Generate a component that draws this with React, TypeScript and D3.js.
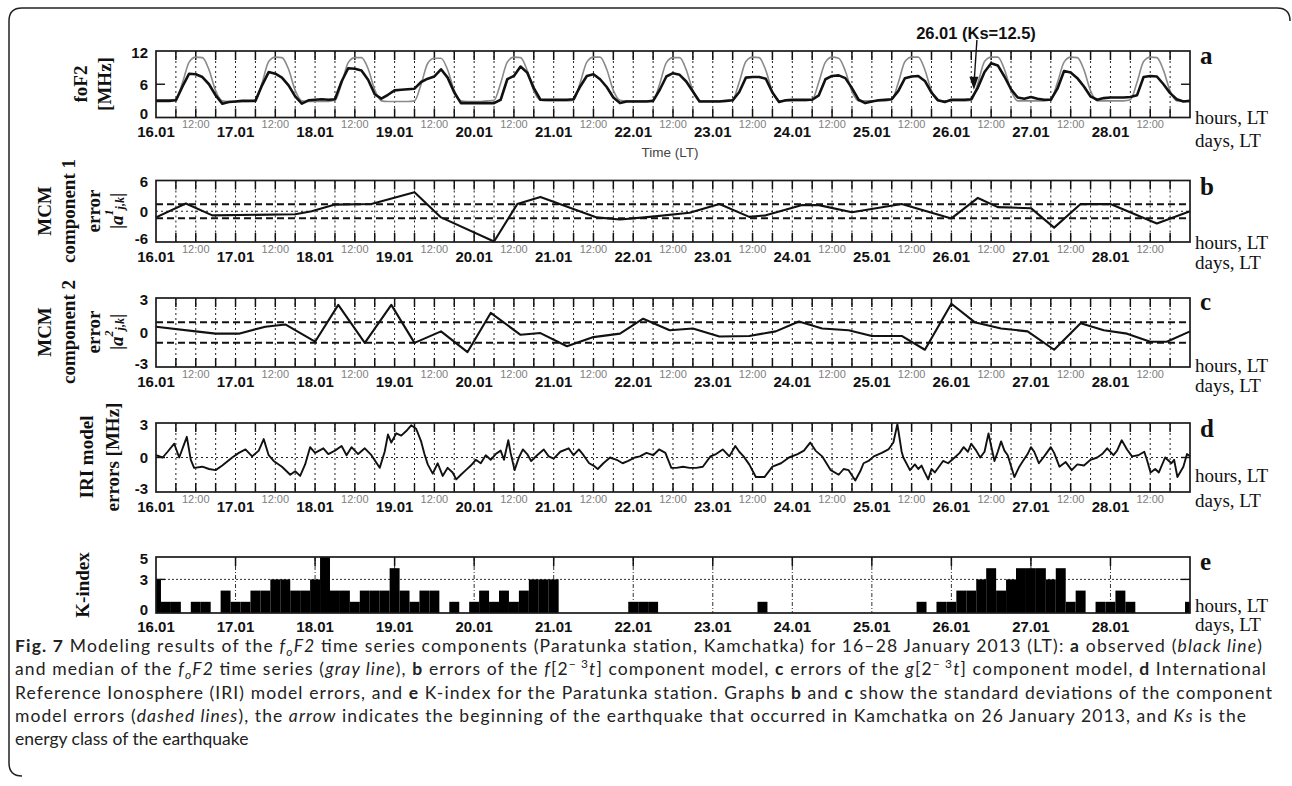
import React from 'react';
import * as d3 from 'd3';

// ---- data -------------------------------------------------------------
const DAY_LABELS = ['16.01', '17.01', '18.01', '19.01', '20.01', '21.01', '22.01', '23.01', '24.01', '25.01', '26.01', '27.01', '28.01'];
const NOON_LABEL = '12:00';
const TOTAL_HOURS = 312;

// foF2, MHz, every 2 h from 16.01 00:00 LT
const FOF2_OBSERVED = [
  3.0, 3.0, 3.0, 3.1, 5.6, 7.9, 7.8, 7.3, 6.0, 4.0, 2.5, 2.8,
  2.9, 3.0, 3.0, 3.0, 5.8, 8.2, 7.9, 7.2, 5.8, 3.8, 2.5, 3.1,
  3.2, 3.3, 3.2, 3.3, 6.5, 8.9, 8.8, 8.5, 6.8, 4.2, 3.4, 4.1,
  4.9, 5.0, 5.1, 5.2, 6.4, 7.0, 7.4, 8.7, 7.2, 4.5, 2.6, 2.6,
  2.6, 2.6, 2.6, 2.6, 3.2, 6.9, 7.5, 9.2, 8.1, 5.3, 3.2, 3.2,
  3.2, 3.2, 3.2, 3.3, 5.6, 7.5, 7.8, 6.9, 5.5, 3.6, 2.6, 2.9,
  2.9, 2.9, 2.9, 3.0, 5.0, 7.4, 8.0, 7.7, 6.5, 4.7, 2.9, 2.9,
  2.9, 2.9, 3.0, 3.1, 4.6, 7.2, 7.3, 7.3, 7.0, 4.5, 2.8, 3.1,
  3.2, 3.2, 3.2, 3.2, 4.0, 6.9, 7.5, 7.6, 7.1, 5.3, 3.2, 2.6,
  2.9, 3.1, 3.2, 3.3, 4.8, 7.1, 7.4, 7.5, 6.6, 4.5, 3.1, 2.8,
  3.2, 3.2, 3.2, 3.3, 5.4, 8.2, 9.8, 9.4, 7.4, 5.1, 3.6, 3.4,
  3.7, 3.4, 3.2, 3.2, 5.2, 8.4, 8.1, 7.1, 5.6, 3.8, 3.2, 3.5,
  3.6, 3.6, 3.6, 3.7, 4.0, 7.3, 7.5, 7.4, 6.0, 4.4, 3.3, 2.9,
  3.0,
];

const FOF2_MEDIAN = [
  3.2, 3.2, 3.2, 3.3, 6.3, 10.0, 10.9, 10.8, 8.6, 4.8, 3.0, 2.9,
  2.9, 2.9, 2.9, 3.1, 6.2, 10.1, 10.9, 10.8, 8.7, 4.9, 3.0, 2.9,
  2.9, 2.9, 2.9, 3.1, 6.1, 9.9, 10.8, 10.8, 8.8, 5.0, 3.0, 2.9,
  2.9, 2.9, 2.9, 3.0, 6.0, 9.8, 10.7, 10.7, 8.6, 4.9, 3.0, 2.9,
  2.9, 2.9, 3.0, 3.1, 6.2, 10.0, 10.9, 10.8, 8.5, 4.8, 3.1, 3.0,
  3.0, 3.0, 3.0, 3.1, 6.3, 10.0, 10.9, 10.9, 8.7, 4.9, 3.1, 3.0,
  3.0, 3.0, 3.0, 3.1, 6.1, 9.9, 10.8, 10.8, 8.6, 4.8, 3.0, 3.0,
  3.0, 3.0, 3.0, 3.2, 6.4, 10.1, 10.9, 10.8, 8.5, 4.7, 3.0, 3.0,
  3.0, 3.0, 3.0, 3.2, 6.4, 10.0, 10.9, 10.7, 8.4, 4.7, 3.0, 3.0,
  3.0, 3.0, 3.0, 3.2, 6.3, 10.1, 10.9, 10.9, 8.6, 4.8, 3.0, 3.0,
  3.0, 3.0, 3.0, 3.1, 6.2, 10.1, 10.9, 10.9, 8.7, 4.9, 3.0, 3.0,
  3.0, 3.0, 3.0, 3.2, 6.3, 10.0, 10.9, 10.8, 8.6, 4.8, 3.0, 3.0,
  3.0, 3.0, 3.0, 3.2, 6.3, 10.1, 10.9, 10.8, 8.5, 4.8, 3.0, 3.0,
  3.0,
];

// MCM component 1 error: [hour, value]
const MCM1_ERRORS: [number, number][] = [
  [0, -1.2], [9, 1.5], [17, -0.8], [42, -0.6], [47, 0.0], [54, 1.3], [65, 1.4], [78, 3.7],
  [86, -1.2], [102, -5.9], [109, 1.4], [116, 2.8], [133, -1.2], [140, -1.6], [149, -1.1],
  [161, -0.3], [170, 1.4], [179, -1.1], [184, -0.8], [195, 1.2], [200, 1.2], [210, -0.2],
  [225, 1.4], [240, -1.4], [248, 2.6], [254, 0.8], [264, 0.6], [271, -3.2], [279, 1.4],
  [288, 1.4], [302, -2.4], [312, 0.0],
];
const MCM1_SD = 1.35;

// MCM component 2 error: [hour, value]
const MCM2_ERRORS: [number, number][] = [
  [0, 0.5], [12, 0.1], [18, -0.1], [25, -0.1], [33, 0.5], [39, 0.7], [48, -0.8], [55, 2.4],
  [63, -0.9], [71, 2.4], [78, -0.9], [86, 0.1], [94, -1.7], [101, 1.7], [110, -0.2],
  [116, -0.05], [124, -1.2], [132, -0.4], [140, -0.1], [147, 1.2], [155, 0.2], [162, 0.35],
  [170, -0.35], [179, -0.3], [187, 0.1], [194, 0.95], [201, 0.35], [209, 0.2], [216, -0.3],
  [225, -0.3], [232, -1.5], [240, 2.5], [247, 0.9], [255, 0.35], [263, 0.1], [271, -1.5],
  [279, 0.8], [286, 0.2], [293, -0.1], [300, -0.8], [305, -0.8], [312, 0.1],
];
const MCM2_SD = 0.9;

// IRI model errors, MHz: [hour, value]
const IRI_ERRORS: [number, number][] = [
  [0, 0.2], [2, 0.0], [3.5, 0.5], [5.5, 1.2], [7, 0.0], [9.3, 1.8], [10.5, -0.2], [11.5, -0.9],
  [14, -0.8], [16, -1.0], [18, -1.1], [20, -0.7], [23, 0.0], [25, 0.4], [27, 0.7], [29, 0.1],
  [31, 0.6], [32.5, 1.6], [34, 0.2], [35.5, -0.3], [38, -0.8], [40.5, -1.5], [42, -1.2],
  [43.5, -1.6], [45, -0.6], [46.5, 0.9], [48, 0.4], [50.5, 0.8], [52, 0.3], [54, 0.6],
  [56, 1.0], [57.5, 0.2], [59, 0.9], [61, 0.3], [63, 0.8], [65, 0.2], [67.5, -0.9], [69, 0.5],
  [70, 2.0], [71, 1.3], [72.5, 2.1], [74, 1.9], [75.5, 2.3], [77, 2.8], [78.5, 2.5], [80, 1.4],
  [81, 0.3], [82, -0.6], [83.5, -1.4], [85, -0.5], [86.5, -1.6], [88, -0.9], [89.5, -1.3],
  [90.6, -1.9], [92, -1.5], [93.5, -1.1], [95, -0.7], [96.5, -0.2], [98, -0.5], [99.5, 0.2],
  [101, -0.2], [102.5, 0.3], [104, 0.6], [105, -0.2], [106.3, 1.5], [107, 0.4], [108.2, -1.1],
  [109.5, 0.0], [110.7, 0.7], [112, 0.3], [113.2, -0.3], [115, 0.2], [117, 0.7], [118.5, 0.1],
  [120, -0.1], [122, 0.5], [124.5, 0.8], [126, 0.2], [127.6, 0.7], [129, 0.2], [130.7, -0.5],
  [132, -0.7], [133.3, -1.0], [135, -0.5], [137, 0.0], [139, -0.2], [140.8, -0.5], [142.5, -0.3],
  [144.5, 0.0], [146, 0.1], [148, 0.4], [150, 0.2], [151.8, 0.7], [153.7, 0.4], [155.5, -0.9],
  [157, -0.9], [159, -0.8], [161, -0.9], [163, -0.9], [165, -0.8], [167.3, 0.1], [169, 0.3],
  [171, 0.7], [173, 0.1], [174.8, 1.0], [176, 0.5], [177.3, 0.1], [179, -0.6], [181, -1.7],
  [183.6, -1.7], [186, -0.8], [188.6, -0.5], [191, 0.0], [193.6, 0.3], [195.5, 0.6], [197.4, 1.3],
  [199, 0.6], [201, 0.1], [203.6, -1.1], [206, -1.5], [207.5, -1.0], [209, -1.1], [211, -2.0],
  [212.5, -1.2], [213.5, -0.5], [215, -0.3], [216.6, 0.1], [219, 0.4], [221, 0.7], [222.5, 1.3],
  [223.7, 2.9], [225, 0.5], [225.5, 0.0], [227.5, -1.1], [229, -0.6], [230, -1.0], [231, -0.7],
  [231.8, -1.2], [233, -1.9], [234, -1.0], [235, -1.3], [237.5, -0.3], [239, -0.5], [241, 0.0],
  [242.5, 0.4], [243.7, 0.9], [245, 0.5], [246, 1.2], [247.5, 0.6], [248.7, 0.0], [250, 0.5],
  [251.2, 2.1], [252, 1.0], [253, -0.3], [254, 0.5], [255, 1.4], [256, 0.6], [257, 0.2],
  [259, -1.7], [260.5, -0.8], [261.4, -0.4], [263, 0.3], [264, 0.9], [265, 0.5], [266.4, -0.5],
  [268, 0.1], [270, 0.9], [271, 0.4], [272.6, -0.8], [274.5, -0.4], [276.3, -1.1], [278, -0.6],
  [280, -0.7], [282, -0.2], [284, 0.0], [285.5, 0.3], [287, 0.8], [288.9, 0.2], [290, 0.6],
  [291.4, 1.5], [293, 0.7], [294.5, 0.1], [296.4, 0.2], [298.2, 0.5], [299, -0.2], [300.1, -1.3],
  [301.5, -1.0], [302.6, -1.3], [304.5, 0.0], [306.4, -0.5], [307.2, -0.2], [308.2, -1.7],
  [310, -0.8], [311.1, 0.3], [312, 0.1],
];

// K-index, every 3 h from 16.01 00:00 LT
const K_INDEX = [
  3, 1, 1, 0, 1, 1, 0, 2,
  1, 1, 2, 2, 3, 3, 2, 2,
  3, 5, 2, 2, 1, 2, 2, 2,
  4, 2, 1, 2, 2, 0, 1, 0,
  1, 2, 1, 2, 1, 2, 3, 3,
  3, 0, 0, 0, 0, 0, 0, 0,
  1, 1, 1, 0, 0, 0, 0, 0,
  0, 0, 0, 0, 0, 1, 0, 0,
  0, 0, 0, 0, 0, 0, 0, 0,
  0, 0, 0, 0, 0, 1, 0, 1,
  1, 2, 2, 3, 4, 2, 3, 4,
  4, 4, 3, 4, 1, 2, 0, 1,
  1, 2, 1, 0, 0, 0, 0, 0,
  1,
];

const FOF2_TICKS = [0, 6, 12];
const MCM1_TICKS = [-6, 0, 6];
const MCM2_TICKS = [-3, 0, 3];
const IRI_TICKS = [-3, 0, 3];
const K_TICKS = [0, 3, 5];

const QUAKE_HOUR = 246.8;
const QUAKE_TIP_VALUE = 5.0;
const QUAKE_LABEL = '26.01 (Ks=12.5)';

// ---- styling ----------------------------------------------------------
const SANS = 'Liberation Sans, Arial, sans-serif';
const SERIF = 'Liberation Serif, Times New Roman, serif';
const INK = '#111';

const X_LEFT = 156;
const X_RIGHT = 1190;

type Scale = d3.ScaleLinear<number, number>;

function Frame({ top, bottom }: { top: number; bottom: number }) {
  return (
    <rect x={X_LEFT} y={top} width={X_RIGHT - X_LEFT} height={bottom - top}
      fill="none" stroke="#1a1a1a" strokeWidth={1.7} />
  );
}

function HourGrid({ x, top, bottom }: { x: Scale; top: number; bottom: number }) {
  const hours = d3.range(6, TOTAL_HOURS, 6);
  return (
    <g>
      {hours.map((h) => (
        <g key={h}>
          <line x1={x(h)} x2={x(h)} y1={top} y2={bottom} stroke="#222" strokeWidth={1}
            strokeDasharray="2,3" />
          <line x1={x(h)} x2={x(h)} y1={top} y2={top + 9} stroke="#111" strokeWidth={1.5} />
          <line x1={x(h)} x2={x(h)} y1={bottom - 9} y2={bottom} stroke="#111" strokeWidth={1.5} />
        </g>
      ))}
    </g>
  );
}

function TimeLabels({ x, bottom, noon }: { x: Scale; bottom: number; noon: boolean }) {
  return (
    <g>
      {DAY_LABELS.map((d, i) => (
        <text key={d} x={x(i * 24)} y={bottom + 19.5} textAnchor="middle" fontFamily={SANS}
          fontWeight="bold" fontSize={15} fill={INK}>{d}</text>
      ))}
      {noon && DAY_LABELS.map((d, i) => (
        <text key={'n' + d} x={x(i * 24 + 12)} y={bottom + 10.5} textAnchor="middle"
          fontFamily={SANS} fontSize={11} fill="#808080">{NOON_LABEL}</text>
      ))}
    </g>
  );
}

function YTicks({ y, ticks, mids }: { y: Scale; ticks: number[]; mids: number[] }) {
  const [lo, hi] = y.domain();
  return (
    <g>
      {ticks.map((t) => {
        // keep the end labels inside the frame height so they clear the date row
        const nudge = t === lo ? -4 : t === hi ? 1 : 0;
        return (
          <text key={t} x={148} y={y(t) + nudge} textAnchor="end" dominantBaseline="central"
            fontFamily={SANS} fontWeight="bold" fontSize={15} fill={INK}>{t}</text>
        );
      })}
      {mids.map((t) => (
        <g key={'m' + t}>
          <line x1={X_LEFT} x2={X_LEFT + 9} y1={y(t)} y2={y(t)} stroke="#111" strokeWidth={1.4} />
          <line x1={X_RIGHT - 9} x2={X_RIGHT} y1={y(t)} y2={y(t)} stroke="#111" strokeWidth={1.4} />
        </g>
      ))}
    </g>
  );
}

function SideText({ letter, letterY, hoursY, daysY }: { letter: string; letterY: number; hoursY: number; daysY: number }) {
  return (
    <g fontFamily={SERIF} fill={INK}>
      <text x={1200} y={letterY} dominantBaseline="central" fontWeight="bold" fontSize={25}>{letter}</text>
      <text x={1195} y={hoursY} dominantBaseline="central" fontSize={19}>hours, LT</text>
      <text x={1195} y={daysY} dominantBaseline="central" fontSize={19}>days, LT</text>
    </g>
  );
}

function VLabel({ x, y, children, size = 19 }: { x: number; y: number; children: React.ReactNode; size?: number }) {
  return (
    <text transform={`translate(${x},${y}) rotate(-90)`} textAnchor="middle" dominantBaseline="central"
      fontFamily={SERIF} fontWeight="bold" fontSize={size} fill={INK}>{children}</text>
  );
}

function ErrorSymbol({ x, y, sup }: { x: number; y: number; sup: string }) {
  return (
    <text transform={`translate(${x},${y}) rotate(-90)`} textAnchor="middle" dominantBaseline="central"
      fontFamily={SERIF} fontWeight="bold" fontSize={19} fill={INK}>
      <tspan>|</tspan>
      <tspan fontStyle="italic">a</tspan>
      <tspan fontStyle="italic" fontSize={12} dy={-7}>{sup}</tspan>
      <tspan fontStyle="italic" fontSize={12} dy={11}>j,k</tspan>
      <tspan dy={-4}>|</tspan>
    </text>
  );
}

export default function App() {
  const x = d3.scaleLinear().domain([0, TOTAL_HOURS]).range([X_LEFT, X_RIGHT]);

  const A = { top: 51, bottom: 117.5 };
  const B = { top: 180.5, bottom: 242 };
  const C = { top: 298, bottom: 367 };
  const D = { top: 423, bottom: 492 };
  const E = { top: 557, bottom: 613 };

  const yA = d3.scaleLinear().domain([0, 12]).range([A.bottom, A.top]);
  const yB = d3.scaleLinear().domain([-6, 6]).range([B.bottom, B.top]);
  const yC = d3.scaleLinear().domain([-3, 3]).range([C.bottom, C.top]);
  const yD = d3.scaleLinear().domain([-3, 3]).range([D.bottom, D.top]);
  const yE = d3.scaleLinear().domain([0, 5]).range([E.bottom, E.top]);

  const seriesA = (arr: number[]) => arr.map((v, i) => [i * 2, v] as [number, number]);
  const lineA = d3.line<[number, number]>().x((d) => x(d[0])).y((d) => yA(d[1]));
  const lineAsmooth = d3.line<[number, number]>().x((d) => x(d[0])).y((d) => yA(d[1])).curve(d3.curveMonotoneX);
  const lineB = d3.line<[number, number]>().x((d) => x(d[0])).y((d) => yB(d[1]));
  const lineC = d3.line<[number, number]>().x((d) => x(d[0])).y((d) => yC(d[1]));
  const lineD = d3.line<[number, number]>().x((d) => x(d[0])).y((d) => yD(d[1]));

  const tipX = x(QUAKE_HOUR);
  const tipY = yA(QUAKE_TIP_VALUE);

  const captionLines = [652, 675.3, 698.6, 721.9, 745.2];

  return (
    <svg width={1292} height={786} style={{ position: 'absolute', left: 0, top: 0, background: '#fff' }}>
      {/* outer figure frame */}
      <path d="M1290,21 Q1290,8 1277,8 L22,8 Q9,8 9,21 L9,763 Q9,776 22,776" fill="none" stroke="#222" strokeWidth={1.5} />

      {/* ---- panel a: foF2 ---- */}
      <HourGrid x={x} top={A.top} bottom={A.bottom} />
      <path d={lineAsmooth(seriesA(FOF2_MEDIAN)) || ''} fill="none" stroke="#8a8a8a" strokeWidth={1.6} />
      <path d={lineA(seriesA(FOF2_OBSERVED)) || ''} fill="none" stroke="#111" strokeWidth={2.6} strokeLinejoin="round" />
      <Frame {...A} />
      <YTicks y={yA} ticks={FOF2_TICKS} mids={[6]} />
      <TimeLabels x={x} bottom={A.bottom} noon />
      <text x={670} y={152} textAnchor="middle" dominantBaseline="central" fontFamily={SANS} fontSize={13.5} fill="#444">Time (LT)</text>
      <VLabel x={80} y={84}>foF2</VLabel>
      <VLabel x={104} y={84}>[MHz]</VLabel>
      <SideText letter="a" letterY={55} hoursY={117} daysY={140} />
      {/* earthquake marker */}
      <text x={976} y={33} textAnchor="middle" dominantBaseline="central" fontFamily={SANS} fontWeight="bold" fontSize={16.5} fill={INK}>{QUAKE_LABEL}</text>
      <line x1={tipX + 3} y1={40} x2={tipX + 0.5} y2={tipY - 12} stroke="#111" strokeWidth={1.4} />
      <path d={`M${tipX},${tipY} L${tipX - 4.5},${tipY - 13} L${tipX + 4.5},${tipY - 13} Z`} fill="#111" />

      {/* ---- panel b: MCM component 1 ---- */}
      <HourGrid x={x} top={B.top} bottom={B.bottom} />
      <line x1={X_LEFT} x2={X_RIGHT} y1={yB(0)} y2={yB(0)} stroke="#222" strokeWidth={1} strokeDasharray="2,3" />
      {[MCM1_SD, -MCM1_SD].map((s) => (
        <line key={s} x1={X_LEFT} x2={X_RIGHT} y1={yB(s)} y2={yB(s)} stroke="#111" strokeWidth={2} strokeDasharray="7,4" />
      ))}
      <path d={lineB(MCM1_ERRORS) || ''} fill="none" stroke="#111" strokeWidth={2.1} strokeLinejoin="round" />
      <Frame {...B} />
      <YTicks y={yB} ticks={MCM1_TICKS} mids={[]} />
      <TimeLabels x={x} bottom={B.bottom} noon />
      <VLabel x={44} y={211}>MCM</VLabel>
      <VLabel x={68} y={211}>component 1</VLabel>
      <VLabel x={93} y={211}>error</VLabel>
      <ErrorSymbol x={116} y={211} sup="1" />
      <SideText letter="b" letterY={186} hoursY={242} daysY={262} />

      {/* ---- panel c: MCM component 2 ---- */}
      <HourGrid x={x} top={C.top} bottom={C.bottom} />
      {[MCM2_SD, -MCM2_SD].map((s) => (
        <line key={s} x1={X_LEFT} x2={X_RIGHT} y1={yC(s)} y2={yC(s)} stroke="#111" strokeWidth={2} strokeDasharray="7,4" />
      ))}
      <path d={lineC(MCM2_ERRORS) || ''} fill="none" stroke="#111" strokeWidth={2.1} strokeLinejoin="round" />
      <Frame {...C} />
      <YTicks y={yC} ticks={MCM2_TICKS} mids={[]} />
      <TimeLabels x={x} bottom={C.bottom} noon />
      <VLabel x={44} y={332}>MCM</VLabel>
      <VLabel x={68} y={332}>component 2</VLabel>
      <VLabel x={93} y={332}>error</VLabel>
      <ErrorSymbol x={116} y={332} sup="2" />
      <SideText letter="c" letterY={301} hoursY={365} daysY={385} />

      {/* ---- panel d: IRI model errors ---- */}
      <HourGrid x={x} top={D.top} bottom={D.bottom} />
      <line x1={X_LEFT} x2={X_RIGHT} y1={yD(0)} y2={yD(0)} stroke="#222" strokeWidth={1} strokeDasharray="2,3" />
      <path d={lineD(IRI_ERRORS) || ''} fill="none" stroke="#111" strokeWidth={1.9} strokeLinejoin="round" />
      <Frame {...D} />
      <YTicks y={yD} ticks={IRI_TICKS} mids={[0]} />
      <TimeLabels x={x} bottom={D.bottom} noon />
      <VLabel x={86} y={457}>IRI model</VLabel>
      <VLabel x={112} y={457}>errors [MHz]</VLabel>
      <SideText letter="d" letterY={428} hoursY={475} daysY={500} />

      {/* ---- panel e: K-index ---- */}
      {DAY_LABELS.slice(1).map((d, i) => {
        const xx = x((i + 1) * 24);
        return (
          <g key={'e' + d}>
            <line x1={xx} x2={xx} y1={E.top} y2={E.bottom} stroke="#333" strokeWidth={1} strokeDasharray="4,2,1,2" />
            <line x1={xx} x2={xx} y1={E.top} y2={E.top + 9} stroke="#111" strokeWidth={1.5} />
          </g>
        );
      })}
      <line x1={X_LEFT} x2={X_RIGHT} y1={yE(3)} y2={yE(3)} stroke="#333" strokeWidth={1} strokeDasharray="2,2" />
      {K_INDEX.map((k, i) => {
        if (k <= 0) return null;
        const x0 = Math.max(x(i * 3 - 1.5), X_LEFT);
        const x1 = Math.min(x(i * 3 + 1.5), X_RIGHT);
        return <rect key={i} x={x0} y={yE(k)} width={x1 - x0} height={yE(0) - yE(k)} fill="#000" />;
      })}
      <Frame {...E} />
      <YTicks y={yE} ticks={K_TICKS} mids={[3]} />
      <TimeLabels x={x} bottom={E.bottom - 1} noon={false} />
      <VLabel x={82} y={585}>K-index</VLabel>
      <SideText letter="e" letterY={561} hoursY={605} daysY={624} />

      {/* ---- caption ---- */}
      <g fontFamily="Lato, 'Open Sans', sans-serif" fontSize={17.5} fill="#222">
        <text x={15} y={captionLines[0]} textLength={1247} lengthAdjust="spacing">
          <tspan fontWeight="bold">Fig. 7</tspan> Modeling results of the <tspan fontStyle="italic">f</tspan><tspan fontStyle="italic" fontSize={12} dy={4}>o</tspan><tspan fontStyle="italic" dy={-4}>F2</tspan> time series components (Paratunka station, Kamchatka) for 16–28 January 2013 (LT): <tspan fontWeight="bold">a</tspan> observed (<tspan fontStyle="italic">black line</tspan>)
        </text>
        <text x={15} y={captionLines[1]} textLength={1251} lengthAdjust="spacing">
          and median of the <tspan fontStyle="italic">f</tspan><tspan fontStyle="italic" fontSize={12} dy={4}>o</tspan><tspan fontStyle="italic" dy={-4}>F2</tspan> time series (<tspan fontStyle="italic">gray line</tspan>), <tspan fontWeight="bold">b</tspan> errors of the <tspan fontStyle="italic">f</tspan>[2<tspan fontSize={12} dy={-7}>− 3</tspan><tspan fontStyle="italic" dy={7}>t</tspan>] component model, <tspan fontWeight="bold">c</tspan> errors of the <tspan fontStyle="italic">g</tspan>[2<tspan fontSize={12} dy={-7}>− 3</tspan><tspan fontStyle="italic" dy={7}>t</tspan>] component model, <tspan fontWeight="bold">d</tspan> International
        </text>
        <text x={15} y={captionLines[2]} textLength={1257} lengthAdjust="spacing">
          Reference Ionosphere (IRI) model errors, and <tspan fontWeight="bold">e</tspan> K-index for the Paratunka station. Graphs <tspan fontWeight="bold">b</tspan> and <tspan fontWeight="bold">c</tspan> show the standard deviations of the component
        </text>
        <text x={15} y={captionLines[3]} textLength={1231} lengthAdjust="spacing">
          model errors (<tspan fontStyle="italic">dashed lines</tspan>), the <tspan fontStyle="italic">arrow</tspan> indicates the beginning of the earthquake that occurred in Kamchatka on 26 January 2013, and <tspan fontStyle="italic">Ks</tspan> is the
        </text>
        <text x={15} y={captionLines[4]}>energy class of the earthquake</text>
      </g>
    </svg>
  );
}
